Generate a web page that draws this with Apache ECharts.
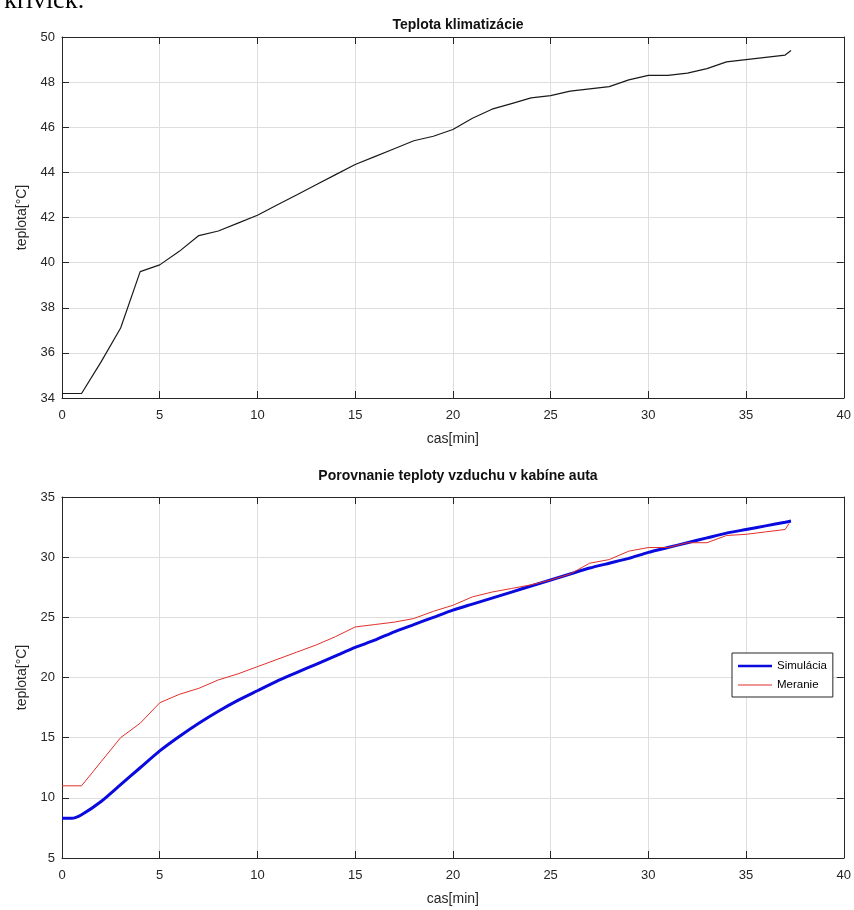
<!DOCTYPE html>
<html>
<head>
<meta charset="utf-8">
<script src="https://cdn.jsdelivr.net/npm/echarts@6/dist/echarts.min.js"></script>
<style>
  html, body { margin: 0; padding: 0; background: #fff; }
  #chart { width: 854px; height: 910px; }
</style>
</head>
<body>
<div id="chart"></div>
<script>
// top plot - teplota klimatizacie
var timeKlima = [0, 1, 2, 3, 4, 5, 6, 7, 8, 9, 10, 11, 12, 13, 14, 15, 16, 17, 18, 19, 20,
  21, 22, 23, 24, 25, 26, 27, 28, 29, 30, 31, 32, 33, 34, 35, 36, 37, 37.3];
var tempKlima = [34.2, 34.2, 35.6, 37.1, 39.6, 39.9, 40.5, 41.2, 41.4, 41.75, 42.1, 42.55, 43.0, 43.45, 43.9, 44.35,
  44.7, 45.05, 45.4, 45.6, 45.9, 46.4, 46.8, 47.05, 47.3, 47.4, 47.6, 47.7, 47.8, 48.1, 48.3, 48.3,
  48.4, 48.6, 48.9, 49.0, 49.1, 49.2, 49.4];

// bottom plot - simulacia vs meranie
var timeSim = [0, 0.5, 1, 2, 3, 4, 5, 6, 7, 8, 9, 10, 11, 12, 13, 14, 15, 16, 17, 18, 19, 20,
  21, 22, 23, 24, 25, 26, 27, 28, 29, 30, 31, 32, 33, 34, 35, 36, 37, 37.3];
var tempSim = [8.3, 8.3, 8.6, 9.7, 11.1, 12.5, 13.9, 15.1, 16.2, 17.2, 18.1, 18.9, 19.7, 20.4, 21.1, 21.8, 22.5,
  23.1, 23.8, 24.4, 25.0, 25.6, 26.1, 26.6, 27.1, 27.6, 28.1, 28.6, 29.1, 29.5, 29.9, 30.4,
  30.8, 31.2, 31.6, 32.0, 32.3, 32.6, 32.9, 33.0];
var timeMer = [0, 1, 2, 3, 4, 5, 6, 7, 8, 9, 10, 11, 12, 13, 14, 15, 16, 17, 18, 19, 20,
  21, 22, 23, 24, 25, 26, 27, 28, 29, 30, 31, 32, 33, 34, 35, 36, 37, 37.2];
var tempMer = [11.0, 11.0, 13.0, 15.0, 16.2, 17.9, 18.6, 19.1, 19.8, 20.3, 20.9, 21.5, 22.1, 22.7, 23.4, 24.2,
  24.4, 24.6, 24.9, 25.5, 26.0, 26.7, 27.1, 27.4, 27.7, 28.1, 28.6, 29.5, 29.8, 30.5, 30.8,
  30.8, 31.2, 31.2, 31.8, 31.9, 32.1, 32.3, 32.8];

function pairs(t, v) {
  return t.map(function (x, i) { return [x, v[i]]; });
}

var ink = '#262626';
var gridGray = '#dedede';
var labelFont = { color: ink, fontSize: 13, fontFamily: 'Liberation Sans' };

function mainX(gridIndex) {
  return {
    gridIndex: gridIndex, type: 'value', min: 0, max: 40, interval: 5,
    name: 'cas[min]', nameLocation: 'middle', nameGap: 34,
    nameTextStyle: { color: ink, fontSize: 14, fontFamily: 'Liberation Sans' },
    axisLine: { show: true, onZero: false, lineStyle: { color: ink, width: 1 } },
    axisTick: { show: true, inside: true, length: 7, lineStyle: { color: ink } },
    axisLabel: Object.assign({ margin: 11 }, labelFont),
    splitLine: { show: true, lineStyle: { color: gridGray, width: 1 } }
  };
}
function boxX(gridIndex) {
  return {
    gridIndex: gridIndex, type: 'value', position: 'top', min: 0, max: 40, interval: 5,
    axisLine: { show: true, onZero: false, lineStyle: { color: ink, width: 1 } },
    axisTick: { show: true, inside: true, length: 7, lineStyle: { color: ink } },
    axisLabel: { show: false }, splitLine: { show: false }
  };
}
function mainY(gridIndex, min, max, interval) {
  return {
    gridIndex: gridIndex, type: 'value', min: min, max: max, interval: interval,
    name: 'teplota[°C]', nameLocation: 'middle', nameGap: 32,
    nameTextStyle: { color: ink, fontSize: 14, fontFamily: 'Liberation Sans' },
    axisLine: { show: true, onZero: false, lineStyle: { color: ink, width: 1 } },
    axisTick: { show: true, inside: true, length: 7, lineStyle: { color: ink } },
    axisLabel: Object.assign({ margin: 7 }, labelFont),
    splitLine: { show: true, lineStyle: { color: gridGray, width: 1 } }
  };
}
function boxY(gridIndex, min, max, interval) {
  return {
    gridIndex: gridIndex, type: 'value', position: 'right', min: min, max: max, interval: interval,
    axisLine: { show: true, onZero: false, lineStyle: { color: ink, width: 1 } },
    axisTick: { show: true, inside: true, length: 7, lineStyle: { color: ink } },
    axisLabel: { show: false }, splitLine: { show: false }
  };
}

var chart = echarts.init(document.getElementById('chart'), null, { renderer: 'canvas' });

var option = {
  backgroundColor: '#fff',
  animation: false,
  title: [
    {
      text: 'Teplota klimatizácie', left: 453, top: 13, textAlign: 'center',
      textStyle: { color: '#111', fontSize: 14, fontWeight: 'bold', fontFamily: 'Liberation Sans' }
    },
    {
      text: 'Porovnanie teploty vzduchu v kabíne auta', left: 453, top: 464, textAlign: 'center',
      textStyle: { color: '#111', fontSize: 14, fontWeight: 'bold', fontFamily: 'Liberation Sans' }
    }
  ],
  graphic: [
    {
      type: 'text', left: 4, top: -12,
      style: { text: 'krivick.', fontSize: 26, fontFamily: 'Liberation Serif', fill: '#000' }
    }
  ],
  grid: [
    { left: 62, top: 37, width: 782, height: 361 },
    { left: 62, top: 497, width: 782, height: 361 }
  ],
  xAxis: [mainX(0), boxX(0), mainX(1), boxX(1)],
  yAxis: [mainY(0, 34, 50, 2), boxY(0, 34, 50, 2), mainY(1, 5, 35, 5), boxY(1, 5, 35, 5)],
  legend: {
    data: [
      { name: 'Simulácia', icon: 'path://M0,0H40V3H0Z' },
      { name: 'Meranie', icon: 'path://M0,0H40V1H0Z' }
    ],
    orient: 'vertical', left: 732, top: 653,
    backgroundColor: '#fff', borderColor: ink, borderWidth: 1,
    padding: [7, 6, 6, 6], itemGap: 7, itemWidth: 34, itemHeight: 10,
    textStyle: { color: '#000', fontSize: 11.5, fontFamily: 'Liberation Sans' }
  },
  series: [
    {
      name: 'Teplota', type: 'line', xAxisIndex: 0, yAxisIndex: 0,
      data: pairs(timeKlima, tempKlima), symbol: 'none',
      lineStyle: { color: '#1a1a1a', width: 1.2 }
    },
    {
      name: 'Simulácia', type: 'line', xAxisIndex: 2, yAxisIndex: 2,
      data: pairs(timeSim, tempSim), symbol: 'none', smooth: 0.2,
      itemStyle: { color: '#0a0adf' },
      lineStyle: { color: '#0a0adf', width: 3 }
    },
    {
      name: 'Meranie', type: 'line', xAxisIndex: 2, yAxisIndex: 2,
      data: pairs(timeMer, tempMer), symbol: 'none',
      itemStyle: { color: '#e0302a' },
      lineStyle: { color: '#e0302a', width: 1 }
    }
  ]
};

chart.setOption(option);
</script>
</body>
</html>
